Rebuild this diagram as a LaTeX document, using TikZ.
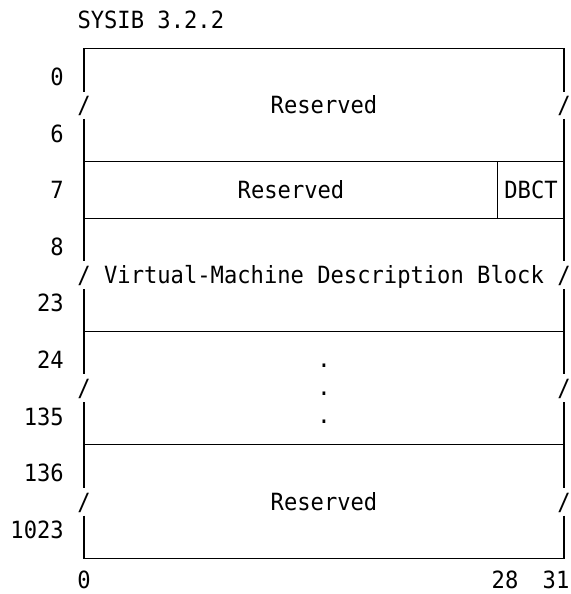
\documentclass[tikz,border=0pt]{standalone}
\usepackage{fontspec}
\newfontfamily\diagmono{DejaVu Sans Mono}[FakeStretch=0.934]
\begin{document}
\begin{tikzpicture}[x=1pt,y=-1pt,
  txt/.style={font=\diagmono\fontsize{23.7}{28}\selectfont, inner sep=0pt, anchor=base},
  lbl/.style={txt, anchor=base east},
  brd/.style={line width=1.1pt, line cap=butt}]
\useasboundingbox (0,0) rectangle (570,594);
% title
\node[txt, anchor=base west] (title) at (77.3,28.8) {SYSIB 3.2.2};
% left labels
\node[lbl] (l0) at (64,85.5) {0};
\node[lbl] (l6) at (64,142.1) {6};
\node[lbl] (l7) at (64,198.7) {7};
\node[lbl] (l8) at (64,255.3) {8};
\node[lbl] (l23) at (64,311.9) {23};
\node[lbl] (l24) at (64,368.5) {24};
\node[lbl] (l135) at (64,425.1) {135};
\node[lbl] (l136) at (64,481.7) {136};
\node[lbl] (l1023) at (64,538.3) {1023};
% horizontal lines
\draw[brd] (84,48.7) -- (564,48.7);
\draw[brd] (84,161.9) -- (564,161.9);
\draw[brd] (84,218.5) -- (564,218.5);
\draw[brd] (84,331.7) -- (564,331.7);
\draw[brd] (84,444.9) -- (564,444.9);
\draw[brd] (84,558.1) -- (564,558.1);
% vertical borders with gaps
\foreach \x in {84,564}{
  \draw[brd] (\x,48.2) -- (\x,91.8);
  \draw[brd] (\x,118.8) -- (\x,261.1);
  \draw[brd] (\x,289.1) -- (\x,374.3);
  \draw[brd] (\x,402.3) -- (\x,487.5);
  \draw[brd] (\x,515.5) -- (\x,558.6);
}
\draw[brd] (497.3,161.9) -- (497.3,218.5);
% slashes
\foreach \y/\n in {113.8/a,283.6/b,396.8/c,510.0/d}{
  \node[txt] (sl\n) at (84,\y) {/};
  \node[txt] (sr\n) at (564,\y) {/};
}
% field texts
\node[txt] (res1) at (324,113.8) {Reserved};
\node[txt] (res2) at (291,198.7) {Reserved};
\node[txt] (dbct) at (531,198.7) {DBCT};
\node[txt] (vmdb) at (324,283.6) {Virtual-Machine Description Block};
\node[txt] (d1) at (324,367.0) {.};
\node[txt] (d2) at (324,395.3) {.};
\node[txt] (d3) at (324,423.6) {.};
\node[txt] (res3) at (324,510.0) {Reserved};
% bit axis
\node[txt] (b0) at (84,588) {0};
\node[txt] (b28) at (505,588) {28};
\node[txt] (b31) at (556,588) {31};
\end{tikzpicture}
\end{document}
